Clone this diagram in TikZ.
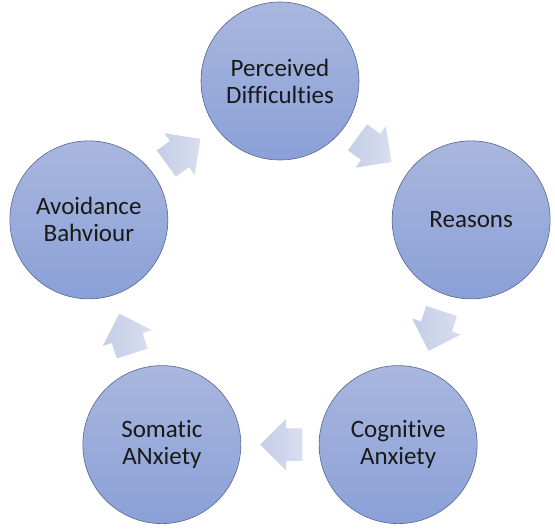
\documentclass[tikz,border=0pt]{standalone}
\usepackage{fontspec}
\setmainfont{Carlito}[Ligatures=NoCommon]
\usepackage{tikz}
\usetikzlibrary{shapes.arrows, calc}
\definecolor{circtop}{HTML}{A9B7DE}
\definecolor{circbot}{HTML}{8AA0D7}
\definecolor{circline}{HTML}{56668F}
\definecolor{arrhead}{HTML}{D9DEEF}
\definecolor{arrtail}{HTML}{C4CDE7}

\begin{document}
\begin{tikzpicture}[x=1pt, y=1pt,
  stage/.style={circle, draw=circline, line width=0.6pt, top color=circtop, bottom color=circbot,
    minimum size=158pt, inner sep=0pt, align=center, text=black!90,
    font=\fontsize{25}{27}\selectfont},
  flow/.style={single arrow, single arrow head extend=9.5pt, single arrow head indent=0pt,
    minimum height=42pt, minimum width=51pt, inner xsep=0pt, inner ysep=16pt, draw=none,
    left color=arrtail, right color=arrhead, rotate=#1}]
\useasboundingbox (0,0) rectangle (555,532);
\coordinate (ring) at (280,250);
\node[stage] (perc) at ($(ring)+(90:201)$) {Perceived\\Difficulties};
\node[stage] (reas) at ($(ring)+(18:201)$) {Reasons};
\node[stage] (cogn) at ($(ring)+(-54:201)$) {Cognitive\\Anxiety};
\node[stage] (soma) at ($(ring)+(-126:201)$) {Somatic\\ANxiety};
\node[stage] (avoi) at ($(ring)+(162:201)$) {Avoidance\\Bahviour};
\node[flow=-36] (pr) at ($(perc)!0.46!(reas)$) {};
\node[flow=-108] (rc) at ($(reas)!0.46!(cogn)$) {};
\node[flow=180] (cs) at ($(cogn)!0.46!(soma)$) {};
\node[flow=108] (sa) at ($(soma)!0.46!(avoi)$) {};
\node[flow=36] (ap) at ($(avoi)!0.46!(perc)$) {};
\end{tikzpicture}
\end{document}
